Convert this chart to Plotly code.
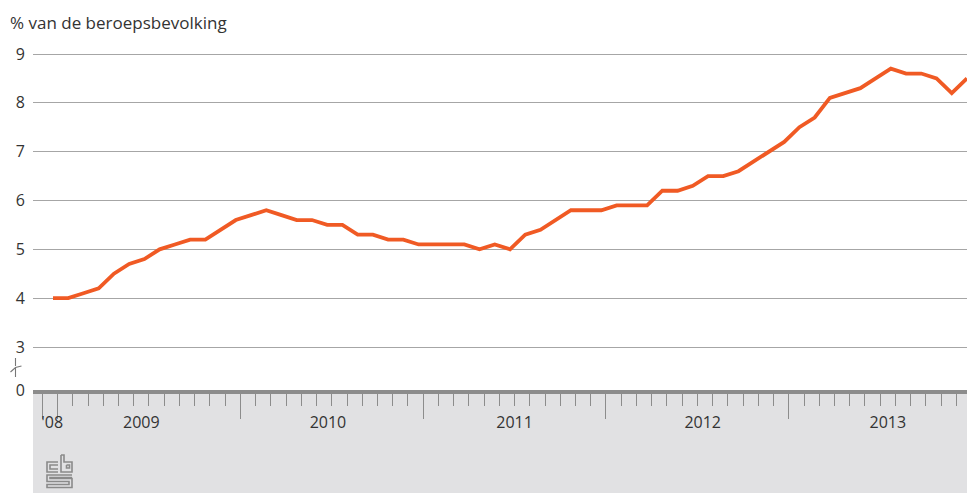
import plotly.graph_objects as go

# ---- data -------------------------------------------------------------
months = [f"{y}-{m:02d}" for y in range(2008, 2014) for m in range(1, 13)][11:]  # Dec 2008 .. Dec 2013
unemployment = [
    4.0, 4.0, 4.1, 4.2, 4.5, 4.7, 4.8, 5.0, 5.1, 5.2,
    5.2, 5.4, 5.6, 5.7, 5.8, 5.7, 5.6, 5.6, 5.5, 5.5,
    5.3, 5.3, 5.2, 5.2, 5.1, 5.1, 5.1, 5.1, 5.0, 5.1,
    5.0, 5.3, 5.4, 5.6, 5.8, 5.8, 5.8, 5.9, 5.9, 5.9,
    6.2, 6.2, 6.3, 6.5, 6.5, 6.6, 6.8, 7.0, 7.2, 7.5,
    7.7, 8.1, 8.2, 8.3, 8.5, 8.7, 8.6, 8.6, 8.5, 8.2, 8.5,
]
year_labels = ["'08", "2009", "2010", "2011", "2012", "2013"]
y_tick_values = [3, 4, 5, 6, 7, 8, 9]
y_title = "% van de beroepsbevolking"

# ---- layout constants -------------------------------------------------
W, H = 967, 493
ML, MR, MT, MB = 33, 0, 40, 103
PW, PH = W - ML - MR, H - MT - MB
FONT = "Open Sans, sans-serif"
FS = 16
TXT = "#333333"
ORANGE = "#f05a24"
GRID = "#a6a6a6"
AXIS = "#8c8c8c"
BAND = "#e1e1e3"

x_idx = list(range(len(months)))
# y scale: 9 at px 54, 3 at px 347
ppu = (347 - 54) / 6.0
y_bottom = 3 - (MT + PH - 347) / ppu
y_top = 9 + (54 - MT) / ppu
# x scale: first point at px 53, last at px 967
ppx = (967 - 53) / (len(months) - 1)
x_lo = -(53 - ML) / ppx
x_hi = x_lo + PW / ppx

month_edge = 0.3          # month boundaries offset from points
year_edges = [month_edge - 1] + [month_edge + 12 * k for k in range(5)]
label_pos = [-0.05, 5.8, 18.05, 30.3, 42.65, 54.8]


def px(xp):
    return (xp - ML) / PW


def py(yp):
    return (MT + PH - yp) / PH


fig = go.Figure()
fig.add_trace(go.Scatter(
    x=x_idx, y=unemployment, mode="lines",
    line=dict(color=ORANGE, width=3.8), hoverinfo="skip", showlegend=False,
))

shapes = []
# grey band under the axis
shapes.append(dict(type="rect", xref="paper", yref="paper",
                   x0=0, x1=1, y0=py(H + 5), y1=0,
                   fillcolor=BAND, line=dict(width=0), layer="below"))
# axis break symbol
bx = 15.5
brk = (f"M {px(bx)} {py(358)} L {px(bx)} {py(366)} "
       f"M {px(10.5)} {py(372)} L {px(bx)} {py(367.5)} L {px(21.5)} {py(366)} "
       f"M {px(bx)} {py(367.5)} L {px(bx)} {py(377)}")
shapes.append(dict(type="path", xref="paper", yref="paper", path=brk,
                   line=dict(color="#777777", width=1.1)))
# CBS logo (approximation with lines)
lx, ly = 47, 455


def seg(pts):
    return "M " + " L ".join(f"{px(lx + a)} {py(ly + b)}" for a, b in pts)


logo_paths = [
    seg([(11, 7), (0, 7), (0, 17), (11, 17)]),          # c outer
    seg([(11, 10), (3, 10), (3, 14), (11, 14)]),        # c inner
    seg([(14, 0), (14, 17), (25, 17), (25, 7), (17, 7), (17, 0), (14, 0)]),  # b
    seg([(19.5, 10), (22.5, 10), (22.5, 13), (19.5, 13), (19.5, 10)]),       # b eye
    seg([(25, 20), (0, 20), (0, 26.5), (22, 26.5), (22, 29.5), (0, 29.5), (0, 32.5), (25, 32.5), (25, 23.5), (3, 23.5), (3, 22.5), (25, 22.5)]),
]
for p in logo_paths:
    shapes.append(dict(type="path", xref="paper", yref="paper", path=p,
                       line=dict(color="#8a8a8a", width=1.6)))

fig.update_layout(
    width=W, height=H,
    margin=dict(l=ML, r=MR, t=MT, b=MB, pad=0),
    paper_bgcolor="white", plot_bgcolor="white",
    font=dict(family=FONT, size=FS, color=TXT),
    showlegend=False,
    xaxis=dict(
        range=[x_lo, x_hi], showgrid=False, zeroline=False,
        showline=True, linewidth=4, linecolor=AXIS,
        ticks="outside", tickvals=year_edges, ticklen=25, tickwidth=1.2,
        tickcolor="#8c8c8c", showticklabels=False,
        minor=dict(tick0=month_edge, dtick=1, ticks="outside", ticklen=12,
                   tickwidth=1.2, tickcolor="#8c8c8c", showgrid=False),
        fixedrange=True,
    ),
    xaxis2=dict(
        overlaying="x", matches="x", side="bottom", anchor="y",
        range=[x_lo, x_hi], showgrid=False, zeroline=False, showline=False,
        ticks="outside", ticklen=18, tickcolor="rgba(0,0,0,0)",
        tickvals=label_pos, ticktext=year_labels,
        tickfont=dict(family=FONT, size=FS, color=TXT),
    ),
    yaxis=dict(
        range=[y_bottom, y_top], showgrid=True, gridcolor=GRID, gridwidth=1.2,
        zeroline=False, showline=False,
        tickvals=[y_bottom] + y_tick_values,
        ticktext=["0"] + [str(v) for v in y_tick_values],
        ticks="outside", ticklen=4, tickcolor="rgba(0,0,0,0)",
        tickfont=dict(family=FONT, size=FS, color=TXT),
        fixedrange=True,
    ),
    shapes=shapes,
    annotations=[dict(
        text=y_title, xref="paper", yref="paper", x=px(8), y=py(22),
        xanchor="left", yanchor="middle", showarrow=False,
        font=dict(family=FONT, size=17, color=TXT),
    )],
)
fig.add_trace(go.Scatter(x=[x_lo], y=[y_bottom], xaxis="x2", mode="markers",
                         marker=dict(opacity=0), hoverinfo="skip", showlegend=False))

fig.write_html("out.html", config={"displayModeBar": False},
               post_script="document.body.style.margin='0';document.body.style.overflow='hidden';")
